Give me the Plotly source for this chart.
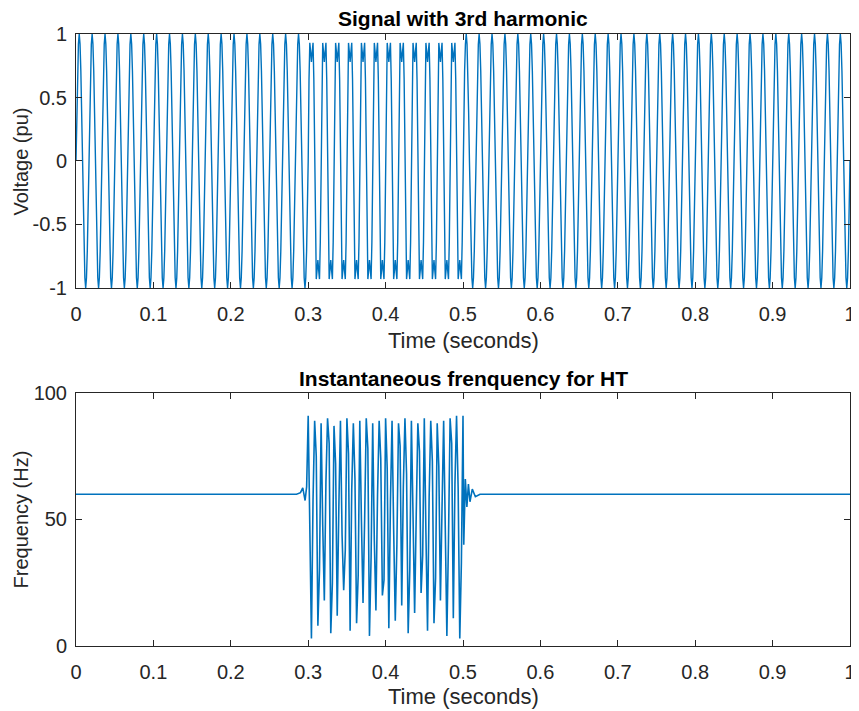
import numpy as np
import plotly.graph_objects as go

# ---------------- data ----------------
fundamental_hz = 60                 # cycles per second of the voltage
harmonic_start, harmonic_end = 0.3, 0.5   # seconds where 3rd harmonic is present
# one fundamental cycle of the clean waveform (16 samples, pu)
cycle_clean = [0.0, 0.38, 0.71, 0.92, 1.0, 0.92, 0.71, 0.38,
               0.0, -0.38, -0.71, -0.92, -1.0, -0.92, -0.71, -0.38]
# one fundamental cycle of the waveform with 3rd harmonic (16 samples, pu)
cycle_harm = [0.0, 0.64, 0.93, 0.86, 0.78, 0.86, 0.93, 0.64,
              0.0, -0.64, -0.93, -0.86, -0.78, -0.86, -0.93, -0.64]

# instantaneous frequency (Hz)
if_base = 60
if_high = [91, 89, 88, 90, 87, 89, 90, 88, 89, 90, 88, 89,
           90, 89, 88, 90, 89, 88, 90, 89, 88, 89, 90, 91]
if_fall = [40, 75, 48, 80, 72, 44, 76, 66, 50, 78, 42, 74,
           70, 46, 79, 68, 52, 77, 45, 73, 71, 47, 80, 62]
if_low = [3, 8, 18, 5, 12, 22, 6, 9, 17, 4, 14, 20,
          7, 10, 16, 5, 13, 21, 6, 9, 18, 4, 11, 3]
if_rise = [58, 30, 65, 25, 55, 38, 62, 28, 50, 35, 60, 26,
           57, 40, 63, 30, 52, 36, 59, 27, 55, 42, 64, 33]
ring_pre_t = [0.285, 0.290, 0.293, 0.296, 0.298]
ring_pre_v = [60, 60.6, 62.5, 57.5, 63]
ring_post_t = [0.501, 0.503, 0.505, 0.507, 0.509, 0.512, 0.516, 0.522]
ring_post_v = [40, 66, 55, 64, 57, 62, 59, 60]

x_ticks = [0, 0.1, 0.2, 0.3, 0.4, 0.5, 0.6, 0.7, 0.8, 0.9, 1]
x_ticklabels = ["0", "0.1", "0.2", "0.3", "0.4", "0.5", "0.6", "0.7", "0.8", "0.9", "1"]
v_ticks = [-1, -0.5, 0, 0.5, 1]
v_ticklabels = ["-1", "-0.5", "0", "0.5", "1"]
f_ticks = [0, 50, 100]
f_ticklabels = ["0", "50", "100"]

# ---------------- build traces ----------------
n_per = len(cycle_clean)
fs = fundamental_hz * n_per
t_sig, v_sig = [], []
for c in range(fundamental_hz):
    start = c / fundamental_hz
    shape = cycle_harm if harmonic_start - 1e-9 <= start < harmonic_end - 1e-9 else cycle_clean
    for i, v in enumerate(shape):
        t_sig.append(start + i / fs)
        v_sig.append(v)
t_sig.append(1.0)
v_sig.append(cycle_clean[0])

T = 1.0 / (2 * fundamental_hz)
t_if = [0.0] + ring_pre_t
f_if = [if_base] + ring_pre_v
for k in range(len(if_high)):
    t0 = harmonic_start + k * T
    t_if += [t0, t0 + T / 4, t0 + T / 2, t0 + 3 * T / 4]
    f_if += [if_high[k], if_fall[k], if_low[k], if_rise[k]]
t_if += [harmonic_end] + ring_post_t + [1.0]
f_if += [if_high[-1]] + ring_post_v + [if_base]

blue = "#0072BD"
axc = "#262626"
font = "Liberation Sans, Arial, sans-serif"

fig = go.Figure()
fig.add_trace(go.Scatter(x=t_sig, y=v_sig, mode="lines",
                         line=dict(color=blue, width=1.4), xaxis="x", yaxis="y",
                         showlegend=False, hoverinfo="skip"))
fig.add_trace(go.Scatter(x=t_if, y=f_if, mode="lines",
                         line=dict(color=blue, width=1.6), xaxis="x2", yaxis="y2",
                         showlegend=False, hoverinfo="skip"))

ax_common = dict(showline=True, linecolor=axc, linewidth=1, mirror="ticks",
                 ticks="inside", ticklen=6, tickcolor=axc, showgrid=False,
                 zeroline=False, ticklabeloverflow="allow",
                 tickfont=dict(family=font, size=20, color=axc))

fig.update_layout(
    width=851, height=703,
    margin=dict(l=68, r=3, t=26, b=65),
    paper_bgcolor="white", plot_bgcolor="white",
    font=dict(family=font, color=axc),
    xaxis=dict(domain=[0, 1], range=[0, 1], anchor="y", tickvals=x_ticks,
               ticktext=x_ticklabels, ticklabelstandoff=8, **ax_common),
    yaxis=dict(domain=[0.585, 1], range=[-1, 1], anchor="x", tickvals=v_ticks,
               ticktext=v_ticklabels, ticklabelstandoff=4, **ax_common),
    xaxis2=dict(domain=[0, 1], range=[0, 1], anchor="y2", tickvals=x_ticks,
                ticktext=x_ticklabels, ticklabelstandoff=8, **ax_common),
    yaxis2=dict(domain=[0, 0.4134], range=[0, 100], anchor="x2", tickvals=f_ticks,
                ticktext=f_ticklabels, ticklabelstandoff=4, **ax_common),
)

def ann(text, x, y, size=22, bold=False, angle=0):
    fig.add_annotation(text=f"<b>{text}</b>" if bold else text, x=x, y=y,
                       xref="paper", yref="paper", showarrow=False,
                       xanchor="center", yanchor="middle", textangle=angle,
                       borderpad=0,
                       font=dict(family=font, size=size, color="#000000" if bold else axc))

ann("Signal with 3rd harmonic", 0.5, 1.0261, size=21, bold=True)
ann("Time (seconds)", 0.5, 0.5, size=22)
ann("Voltage (pu)", -0.0705, 0.7925, size=20, angle=-90)
ann("Instantaneous frenquency for HT", 0.5, 0.4379, size=21, bold=True)
ann("Time (seconds)", 0.5, -0.0833, size=22)
ann("Frequency (Hz)", -0.0705, 0.2075, size=20, angle=-90)

fig.write_html("out.html")
